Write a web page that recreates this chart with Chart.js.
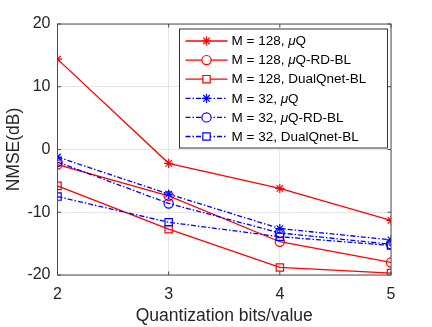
<!DOCTYPE html>
<html lang="en">
<head>
  <meta charset="UTF-8">
  <title>NMSE vs quantization bits</title>
  <script src="https://cdn.jsdelivr.net/npm/chart.js"></script>
  <style>
    body { margin: 0; background: #fff; }
    #wrap { width: 432px; height: 327px; }
  </style>
</head>
<body>
  <div id="wrap"><canvas id="nmseChart" width="432" height="327"></canvas></div>

  <script>
    // Data
    const bits = [2, 3, 4, 5];
    const xTicks = [2, 3, 4, 5];
    const yTicks = [-20, -10, 0, 10, 20];

    const labels = [
      "M = 128, μQ",
      "M = 128, μQ-RD-BL",
      "M = 128, DualQnet-BL",
      "M = 32, μQ",
      "M = 32, μQ-RD-BL",
      "M = 32, DualQnet-BL",
    ];
    const m128Mu = [14.4, -2.2, -6.2, -11.3];
    const m128MuRd = [-2.4, -7.4, -14.7, -18.0];
    const m128Dual = [-5.8, -12.7, -18.8, -19.7];
    const m32Mu = [-1.2, -7.1, -12.6, -14.4];
    const m32MuRd = [-2.0, -8.6, -13.3, -15.1];
    const m32Dual = [-7.5, -11.6, -13.9, -15.3];

    const RED = "#ff0000";
    const BLUE = "#0000ff";
    const DASHDOT = [5, 2, 1.5, 2];
    const FONT = "'Liberation Sans', Arial, Helvetica, sans-serif";
    const NONE = "rgba(0,0,0,0)";

    const makeSet = (label, values, color, marker, dash) => ({
      label,
      data: values.map((v, i) => ({ x: bits[i], y: v })),
      borderColor: color,
      backgroundColor: NONE,
      borderWidth: 1.3,
      borderDash: dash,
      pointStyle: marker,
      pointRadius: marker === "rect" ? 5.2 : 4.6,
      pointBorderColor: color,
      pointBackgroundColor: NONE,
      pointBorderWidth: 1.2,
      tension: 0,
      fill: false,
    });

    // later plots on top, as in the original figure
    const datasets = [
      makeSet(labels[5], m32Dual, BLUE, "rect", DASHDOT),
      makeSet(labels[4], m32MuRd, BLUE, "circle", DASHDOT),
      makeSet(labels[3], m32Mu, BLUE, "star", DASHDOT),
      makeSet(labels[2], m128Dual, RED, "rect", []),
      makeSet(labels[1], m128MuRd, RED, "circle", []),
      makeSet(labels[0], m128Mu, RED, "star", []),
    ];
    const legendOrder = [5, 4, 3, 2, 1, 0];

    // Box around the axes plus inward tick marks
    const boxPlugin = {
      id: "box",
      afterDatasetsDraw(chart) {
        const { ctx, chartArea: a, scales } = chart;
        ctx.save();
        ctx.strokeStyle = "#4d4d4d";
        ctx.lineWidth = 1;
        ctx.strokeRect(a.left, a.top, a.right - a.left, a.bottom - a.top);
        const len = 3.5;
        ctx.beginPath();
        xTicks.forEach((t) => {
          const px = scales.x.getPixelForValue(t);
          ctx.moveTo(px, a.bottom); ctx.lineTo(px, a.bottom - len);
          ctx.moveTo(px, a.top); ctx.lineTo(px, a.top + len);
        });
        yTicks.forEach((t) => {
          const py = scales.y.getPixelForValue(t);
          ctx.moveTo(a.left, py); ctx.lineTo(a.left + len, py);
          ctx.moveTo(a.right, py); ctx.lineTo(a.right - len, py);
        });
        ctx.stroke();
        ctx.restore();
      },
    };

    // Legend box inside the plot, upper right
    const legendPlugin = {
      id: "insideLegend",
      afterDraw(chart) {
        const { ctx, chartArea: a } = chart;
        const boxW = 208, boxH = 119;
        const bx = a.right - 3.5 - boxW, by = a.top + 5;
        const rowH = 19.1;
        ctx.save();
        ctx.fillStyle = "#fff";
        ctx.fillRect(bx, by, boxW, boxH);
        ctx.strokeStyle = "#333";
        ctx.lineWidth = 1;
        ctx.strokeRect(bx, by, boxW, boxH);
        legendOrder.forEach((di, row) => {
          const ds = chart.data.datasets[di];
          const y = by + 12 + row * rowH;
          const x0 = bx + 6, x1 = bx + 48;
          ctx.strokeStyle = ds.borderColor;
          ctx.lineWidth = ds.borderWidth;
          ctx.setLineDash(ds.borderDash);
          ctx.beginPath();
          ctx.moveTo(x0, y); ctx.lineTo(x1, y);
          ctx.stroke();
          ctx.setLineDash([]);
          ctx.fillStyle = "#fff";
          ctx.lineWidth = ds.pointBorderWidth;
          Chart.helpers.drawPoint(ctx, {
            pointStyle: ds.pointStyle,
            radius: ds.pointRadius,
            borderWidth: ds.pointBorderWidth,
            rotation: 0,
          }, (x0 + x1) / 2, y);
          // text, mu in italics
          ctx.fillStyle = "#000";
          ctx.textBaseline = "middle";
          let tx = bx + 52;
          ds.label.split(/(μ)/).forEach((part) => {
            if (!part) return;
            ctx.font = (part === "μ" ? "italic " : "") + "13.5px " + FONT;
            ctx.fillText(part, tx, y + 0.5);
            tx += ctx.measureText(part).width;
          });
        });
        ctx.restore();
      },
    };

    const chart = new Chart(document.getElementById("nmseChart"), {
      type: "line",
      data: { datasets },
      plugins: [boxPlugin, legendPlugin],
      options: {
        responsive: false,
        animation: false,
        layout: { padding: { top: 24, right: 41, bottom: 0, left: 0 } },
        plugins: {
          legend: { display: false },
          tooltip: { enabled: false },
        },
        scales: {
          x: {
            type: "linear",
            min: 2,
            max: 5,
            afterBuildTicks: (s) => { s.ticks = xTicks.map((v) => ({ value: v })); },
            afterFit: (s) => { s.height = 52; },
            grid: { color: "#e6e6e6", drawTicks: false, lineWidth: 1 },
            border: { display: false },
            ticks: {
              color: "#262626",
              font: { family: FONT, size: 16 },
              padding: 10,
            },
            title: {
              display: true,
              text: "Quantization bits/value",
              color: "#262626",
              font: { family: FONT, size: 17.5 },
              padding: { top: 0, bottom: 0 },
            },
          },
          y: {
            type: "linear",
            min: -20,
            max: 20,
            afterBuildTicks: (s) => { s.ticks = yTicks.map((v) => ({ value: v })); },
            afterFit: (s) => { s.width = 57.5; },
            grid: { color: "#e6e6e6", drawTicks: false, lineWidth: 1 },
            border: { display: false },
            ticks: {
              color: "#262626",
              font: { family: FONT, size: 16 },
              padding: 7,
            },
            title: {
              display: true,
              text: "NMSE(dB)",
              color: "#262626",
              font: { family: FONT, size: 17.5 },
              padding: { top: 3.5, bottom: 0 },
            },
          },
        },
      },
    });
  </script>
</body>
</html>
